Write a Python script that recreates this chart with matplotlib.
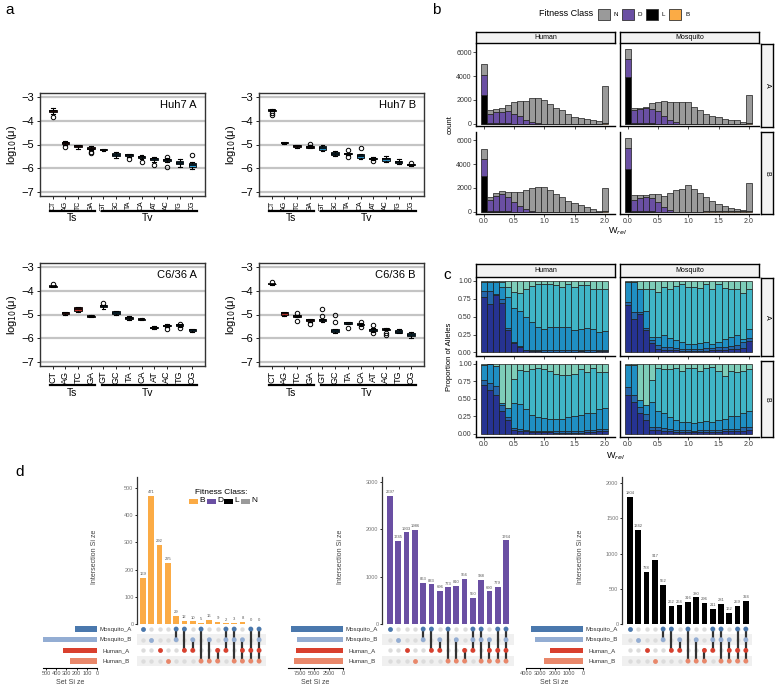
import numpy as np
import matplotlib
matplotlib.use("Agg")
import matplotlib.pyplot as plt
from matplotlib.patches import Rectangle
from matplotlib.transforms import blended_transform_factory

plt.rcParams['font.family'] = ['Liberation Sans', 'DejaVu Sans']
plt.rcParams['axes.unicode_minus'] = True

# ---------------- data: panel a (log10 mutation rate boxes) ----------------
substitutions = ["CT", "AG", "TC", "GA", "GT", "GC", "TA", "CA", "AT", "AC", "TG", "CG"]

huh7a_med = [-3.60, -4.95, -5.08, -5.17, -5.22, -5.43, -5.45, -5.53, -5.62, -5.65, -5.76, -5.85]
huh7a_q1 = [-3.65, -4.99, -5.12, -5.20, -5.25, -5.50, -5.48, -5.57, -5.67, -5.70, -5.82, -5.93]
huh7a_q3 = [-3.55, -4.90, -5.03, -5.12, -5.19, -5.37, -5.42, -5.49, -5.58, -5.62, -5.68, -5.78]
huh7a_lo = [-3.70, -5.02, -5.18, -5.25, -5.27, -5.58, -5.52, -5.62, -5.72, -5.75, -5.93, -6.05]
huh7a_hi = [-3.45, -4.86, -5.00, -5.05, -5.17, -5.32, -5.40, -5.46, -5.53, -5.55, -5.60, -5.75]
huh7a_out = [[-3.85], [-5.10], [], [-5.30, -5.37], [], [], [-5.62], [-5.72], [-5.88], [-5.52, -5.95], [], [-5.45]]
huh7a_col = ["#b23a2a", "#7a1a1a", "#8a2020", "#5a1a1a", "#1a1a1a", "#2a8cbf",
             "#1f5a78", "#1a4a60", "#2e8fc2", "#1f6b90", "#2a8cbf", "#2aa0d8"]

huh7b_med = [-3.55, -4.92, -5.05, -5.10, -5.15, -5.38, -5.40, -5.48, -5.60, -5.63, -5.75, -5.85]
huh7b_q1 = [-3.58, -4.94, -5.09, -5.13, -5.22, -5.44, -5.42, -5.55, -5.63, -5.68, -5.78, -5.87]
huh7b_q3 = [-3.53, -4.90, -5.02, -5.07, -5.07, -5.32, -5.37, -5.42, -5.57, -5.57, -5.70, -5.83]
huh7b_lo = [-3.60, -4.96, -5.14, -5.16, -5.28, -5.48, -5.45, -5.62, -5.66, -5.75, -5.82, -5.89]
huh7b_hi = [-3.51, -4.88, -5.00, -5.04, -5.03, -5.28, -5.34, -5.38, -5.54, -5.50, -5.62, -5.81]
huh7b_out = [[-3.68, -3.74], [], [], [-4.98], [], [], [-5.25, -5.52], [-5.15], [-5.70], [], [], [-5.78]]
huh7b_col = ["#1a1a1a", "#2a1010", "#4a1515", "#3a1212", "#2a8cbf", "#1f6f95",
             "#1a4a60", "#2a8cbf", "#1a4a60", "#2a8cbf", "#1f6f95", "#1a3a4a"]

c636a_med = [-3.82, -4.95, -4.78, -5.07, -4.65, -4.93, -5.15, -5.20, -5.55, -5.47, -5.45, -5.65]
c636a_q1 = [-3.84, -4.99, -4.85, -5.09, -4.70, -4.99, -5.19, -5.22, -5.58, -5.50, -5.48, -5.69]
c636a_q3 = [-3.80, -4.90, -4.70, -5.05, -4.60, -4.86, -5.12, -5.18, -5.52, -5.44, -5.42, -5.61]
c636a_lo = [-3.85, -5.03, -4.88, -5.10, -4.78, -5.01, -5.24, -5.24, -5.60, -5.52, -5.52, -5.72]
c636a_hi = [-3.79, -4.88, -4.67, -5.04, -4.58, -4.84, -5.07, -5.16, -5.49, -5.42, -5.38, -5.60]
c636a_out = [[-3.70], [], [], [], [-4.52], [], [], [], [], [-5.62], [-5.38, -5.55], []]
c636a_col = ["#1a1a1a", "#c0302a", "#c0302a", "#3a1a1a", "#1f5f80", "#2a9fd8",
             "#1a3a4a", "#1a3a4a", "#1f4f68", "#2a7fa8", "#1f4f68", "#2a8cbf"]

c636b_med = [-3.72, -4.95, -5.07, -5.25, -5.25, -5.68, -5.35, -5.42, -5.67, -5.62, -5.72, -5.85]
c636b_q1 = [-3.73, -5.00, -5.10, -5.28, -5.28, -5.73, -5.38, -5.45, -5.70, -5.64, -5.77, -5.90]
c636b_q3 = [-3.71, -4.90, -5.04, -5.21, -5.20, -5.63, -5.31, -5.39, -5.62, -5.60, -5.67, -5.79]
c636b_lo = [-3.74, -5.05, -5.12, -5.30, -5.30, -5.77, -5.40, -5.48, -5.75, -5.65, -5.80, -5.97]
c636b_hi = [-3.70, -4.88, -5.02, -5.19, -5.18, -5.61, -5.30, -5.37, -5.58, -5.58, -5.63, -5.72]
c636b_out = [[-3.62], [], [-4.95, -5.27], [-5.38], [-4.75, -5.05], [-5.00, -5.30], [-5.55],
             [-5.30, -5.52], [-5.45, -5.80], [-5.78, -5.85], [], []]
c636b_col = ["#1a1a1a", "#b03028", "#3a1a1a", "#5a1a1a", "#1a3a4a", "#2a9fd8",
             "#2a8cbf", "#1f5f80", "#1f6b90", "#1a3a4a", "#2a8cbf", "#2a9fd8"]

# ---------------- data: panel b (W_rel histograms, counts per fitness class) ----------------
w_bins = [0.0, 0.1, 0.2, 0.3, 0.4, 0.5, 0.6, 0.7, 0.8, 0.9, 1.0,
          1.1, 1.2, 1.3, 1.4, 1.5, 1.6, 1.7, 1.8, 1.9, 2.0]

hum_a_N = [940, 280, 280, 360, 530, 950, 1280, 1610, 2030, 2090, 2000, 1670, 1330, 1110, 800, 560, 440, 390, 330, 220, 3130]
hum_a_D = [1660, 790, 940, 940, 1030, 820, 610, 330, 110, 50, 0, 0, 0, 0, 0, 0, 0, 0, 0, 0, 0]
hum_a_L = [2450, 40, 30, 30, 20, 10, 0, 0, 0, 0, 0, 0, 0, 0, 0, 0, 0, 0, 0, 0, 0]
hum_a_B = [0, 0, 0, 0, 0, 0, 0, 0, 0, 0, 0, 0, 0, 0, 0, 0, 0, 0, 0, 0, 40]

mos_a_N = [880, 160, 110, 140, 470, 830, 1330, 1530, 1750, 1860, 1800, 1440, 1170, 830, 670, 560, 420, 330, 280, 170, 2400]
mos_a_D = [1530, 1140, 1190, 1280, 1230, 1020, 610, 330, 110, 0, 0, 0, 0, 0, 0, 0, 0, 0, 0, 0, 0]
mos_a_L = [3890, 30, 30, 20, 20, 10, 0, 0, 0, 0, 0, 0, 0, 0, 0, 0, 0, 0, 0, 0, 0]
mos_a_B = [0, 0, 0, 0, 0, 0, 0, 0, 0, 0, 0, 0, 0, 0, 0, 0, 0, 0, 0, 0, 30]

hum_b_N = [790, 220, 230, 230, 450, 870, 1150, 1600, 1920, 2110, 2110, 1830, 1490, 1210, 930, 700, 590, 370, 250, 85, 1950]
hum_b_D = [1490, 960, 1320, 1470, 1190, 780, 510, 230, 80, 0, 0, 0, 0, 0, 0, 0, 0, 0, 0, 0, 0]
hum_b_L = [2960, 30, 30, 20, 20, 10, 0, 0, 0, 0, 0, 0, 0, 0, 0, 0, 0, 0, 0, 0, 0]
hum_b_B = [0, 0, 0, 0, 0, 0, 0, 0, 0, 0, 0, 0, 0, 0, 0, 0, 0, 0, 0, 0, 20]

mos_b_N = [850, 420, 280, 230, 360, 700, 980, 1410, 1830, 1920, 2200, 1920, 1550, 1210, 850, 590, 450, 310, 225, 140, 2350]
mos_b_D = [1780, 960, 1130, 1190, 1110, 780, 370, 140, 0, 0, 0, 0, 0, 0, 0, 0, 0, 0, 0, 0, 0]
mos_b_L = [3600, 30, 30, 20, 20, 10, 0, 0, 0, 0, 0, 0, 0, 0, 0, 0, 0, 0, 0, 0, 0]
mos_b_B = [0, 0, 0, 0, 0, 0, 0, 0, 0, 0, 0, 0, 0, 20, 20, 20, 20, 20, 20, 20, 40]

fitness_classes = ["N", "D", "L", "B"]
fitness_colors = {"N": "#9a9a9a", "D": "#6a4fa3", "L": "#000000", "B": "#fbab45"}

# ---------------- data: panel c (allele proportions, 5 categories bottom->top) ----------------
prop_colors = ["#263392", "#2466ab", "#1f8fc3", "#40b5c6", "#7ecdb9"]

hum_a_prop = [
    [.77, .68, .80, .69, .31, .13, .07, .03, .02, .02, .01, .01, .01, .01, .01, .01, .02, .01, .01, .02, .02],
    [.09, .18, .02, .05, .03, .02, .02, .01, .01, .01, .02, .02, .02, .02, .02, .02, .02, .02, .02, .02, .02],
    [.13, .13, .17, .18, .43, .47, .49, .45, .39, .33, .30, .32, .32, .33, .32, .28, .29, .31, .30, .24, .26],
    [.00, .00, .00, .07, .15, .22, .25, .39, .51, .59, .62, .60, .59, .56, .60, .61, .61, .60, .55, .60, .58],
    [.01, .01, .01, .01, .08, .16, .17, .12, .07, .05, .05, .05, .06, .08, .05, .08, .06, .06, .12, .12, .12],
]
mos_a_prop = [
    [.66, .47, .53, .31, .13, .05, .04, .03, .03, .02, .02, .02, .02, .02, .03, .03, .04, .05, .05, .06, .16],
    [.05, .10, .04, .03, .05, .05, .04, .04, .03, .03, .03, .03, .03, .04, .03, .05, .03, .04, .05, .08, .04],
    [.28, .42, .32, .24, .04, .12, .17, .13, .11, .09, .07, .07, .08, .09, .06, .07, .12, .13, .15, .05, .13],
    [.00, .00, .00, .31, .67, .62, .66, .69, .76, .81, .80, .80, .77, .80, .76, .81, .71, .66, .64, .64, .56],
    [.01, .01, .11, .11, .11, .16, .09, .11, .07, .05, .08, .08, .10, .05, .12, .04, .10, .12, .11, .17, .11],
]
hum_b_prop = [
    [.70, .62, .55, .33, .19, .05, .04, .03, .02, .02, .02, .02, .01, .01, .01, .01, .01, .02, .02, .03, .03],
    [.07, .11, .13, .08, .05, .03, .03, .02, .02, .02, .02, .02, .02, .02, .02, .02, .02, .03, .03, .04, .04],
    [.21, .26, .29, .03, .12, .36, .36, .30, .22, .20, .18, .17, .18, .18, .20, .22, .23, .24, .25, .28, .30],
    [.00, .00, .00, .00, .00, .34, .48, .54, .66, .70, .71, .68, .65, .63, .61, .60, .66, .59, .64, .53, .51],
    [.02, .01, .03, .56, .64, .22, .09, .11, .08, .06, .07, .11, .14, .16, .16, .15, .08, .12, .06, .12, .12],
]
mos_b_prop = [
    [.55, .45, .30, .20, .05, .05, .04, .03, .02, .02, .02, .02, .02, .02, .02, .02, .03, .03, .03, .04, .05],
    [.12, .10, .08, .08, .05, .05, .04, .03, .03, .03, .03, .02, .03, .03, .03, .03, .03, .04, .04, .05, .05],
    [.31, .43, .10, .13, .35, .23, .22, .17, .14, .12, .11, .11, .12, .13, .12, .14, .15, .18, .18, .20, .22],
    [.00, .00, .00, .00, .32, .61, .62, .70, .75, .73, .78, .79, .73, .76, .78, .70, .62, .65, .63, .61, .60],
    [.02, .02, .52, .59, .23, .06, .08, .07, .06, .10, .06, .06, .10, .06, .05, .11, .17, .10, .12, .10, .08],
]

# ---------------- data: panel d (UpSet plots) ----------------
set_names = ["Mosquito_A", "Mosquito_B", "Human_A", "Human_B"]
set_colors = ["#4a78ad", "#93add3", "#d9402e", "#e9876a"]
# members of each intersection column (indices into set_names)
upset_members = [[0], [1], [2], [3], [0, 1], [0, 2], [1, 2], [0, 3], [1, 3], [2, 3],
                 [0, 1, 2], [0, 1, 3], [1, 2, 3], [0, 2, 3], [0, 1, 2, 3]]

upset_b_values = [169, 471, 292, 225, 29, 12, 10, 5, 16, 9, 2, 3, 8, 0, 0]
upset_b_sets = [220, 530, 330, 265]
upset_d_values = [2697, 1745, 1933, 1986, 863, 833, 696, 773, 810, 956, 550, 938, 690, 779, 1764]
upset_d_sets = [9010, 8020, 8140, 8600]
upset_l_values = [1804, 1342, 738, 917, 552, 262, 264, 316, 380, 296, 211, 281, 162, 259, 324]
upset_l_sets = [3690, 3410, 2350, 2780]

# ---------------- figure ----------------
W, H = 776, 691
fig = plt.figure(figsize=(W / 100, H / 100), dpi=100)


def px_axes(l, t, r, b):
    return fig.add_axes([l / W, 1 - b / H, (r - l) / W, (b - t) / H])


def px_text(x, y, s, **kw):
    fig.text(x / W, 1 - y / H, s, **kw)


def px_rect(l, t, r, b, **kw):
    fig.add_artist(Rectangle((l / W, 1 - b / H), (r - l) / W, (b - t) / H,
                             transform=fig.transFigure, **kw))


# ---------------- panel a ----------------
def draw_mut(box, name, med, q1, q3, lo, hi, out, cols, tick_fs, line_off, text_off):
    ax = px_axes(*box)
    stats = [dict(med=m, q1=a, q3=b, whislo=w0, whishi=w1, fliers=f)
             for m, a, b, w0, w1, f in zip(med, q1, q3, lo, hi, out)]
    bp = ax.bxp(stats, positions=range(12), widths=0.6, patch_artist=True,
                boxprops=dict(edgecolor="black", linewidth=0.6),
                medianprops=dict(color="black", linewidth=1.2),
                whiskerprops=dict(color="black", linewidth=0.8),
                capprops=dict(color="black", linewidth=0.8),
                flierprops=dict(marker="o", markerfacecolor="none", markeredgecolor="black",
                                markersize=3.2, markeredgewidth=0.7))
    for patch, c in zip(bp["boxes"], cols):
        patch.set_facecolor(c)
    for y in [-3, -4, -5, -6, -7]:
        ax.axhline(y, color="#c4c4c4", lw=1.6, zorder=0)
    ax.set_xlim(-1, 12)
    ax.set_ylim(-7.17, -2.83)
    ax.set_yticks([-3, -4, -5, -6, -7])
    ax.set_yticklabels(["\u22123", "\u22124", "\u22125", "\u22126", "\u22127"], fontsize=8)
    ax.set_xticks(range(12))
    ax.set_xticklabels(substitutions, rotation=90, fontsize=tick_fs)
    ax.tick_params(length=2.5, width=0.6, pad=1.5)
    ax.tick_params(axis="x", pad=1)
    for s in ax.spines.values():
        s.set_color("#333333")
        s.set_linewidth(1.0)
    ax.set_ylabel("log$_{10}$(\u03bc)", fontsize=8, labelpad=2)
    ax.text(0.95, 0.88, name, transform=ax.transAxes, ha="right", va="center", fontsize=8)
    h = box[3] - box[1]
    tr = blended_transform_factory(ax.transData, ax.transAxes)
    ly = -line_off / h
    ty = -text_off / h
    ax.plot([-0.2, 3.3], [ly, ly], color="black", lw=1.6, transform=tr, clip_on=False)
    ax.plot([3.85, 11.35], [ly, ly], color="black", lw=1.6, transform=tr, clip_on=False)
    ax.text(1.5, ty, "Ts", transform=tr, ha="center", va="center", fontsize=7.5)
    ax.text(7.5, ty, "Tv", transform=tr, ha="center", va="center", fontsize=7.5)


draw_mut((40, 93, 205, 196), "Huh7 A", huh7a_med, huh7a_q1, huh7a_q3, huh7a_lo, huh7a_hi,
         huh7a_out, huh7a_col, 5.0, 15, 22)
draw_mut((259, 93, 424, 196), "Huh7 B", huh7b_med, huh7b_q1, huh7b_q3, huh7b_lo, huh7b_hi,
         huh7b_out, huh7b_col, 5.0, 15, 22)
draw_mut((40, 263, 205, 366), "C6/36 A", c636a_med, c636a_q1, c636a_q3, c636a_lo, c636a_hi,
         c636a_out, c636a_col, 6.5, 19, 27)
draw_mut((259, 263, 424, 366), "C6/36 B", c636b_med, c636b_q1, c636b_q3, c636b_lo, c636b_hi,
         c636b_out, c636b_col, 6.5, 19, 27)

px_text(5, 10, "a", fontsize=11, va="center")
px_text(432, 10, "b", fontsize=11, va="center")
px_text(443, 275, "c", fontsize=11, va="center")
px_text(15, 472, "d", fontsize=11, va="center")


# ---------------- facet helpers ----------------
def strip(l, t, r, b, label, rot=0):
    ax = px_axes(l, t, r, b)
    ax.set_facecolor("#f2f2f2")
    ax.set_xticks([])
    ax.set_yticks([])
    for s in ax.spines.values():
        s.set_linewidth(1.0)
        s.set_color("black")
    ax.text(0.5, 0.5, label, transform=ax.transAxes, ha="center", va="center",
            fontsize=5, rotation=rot)


def classic(ax, show_x, show_y):
    for side in ["top", "right"]:
        ax.spines[side].set_visible(False)
    for side in ["left", "bottom"]:
        ax.spines[side].set_linewidth(1.0)
        ax.spines[side].set_color("black")
    ax.tick_params(length=2, width=0.6, pad=1, labelsize=5, colors="#333333")
    if not show_x:
        ax.tick_params(axis="x", labelbottom=False)
    if not show_y:
        ax.tick_params(axis="y", labelleft=False, length=0)


# ---------------- panel b ----------------
def draw_hist(box, N, D, L, B, show_x, show_y):
    ax = px_axes(*box)
    bottom = np.zeros(len(w_bins))
    for cls, vals in [("B", B), ("L", L), ("D", D), ("N", N)]:
        ax.bar(w_bins, vals, width=0.1, bottom=bottom, color=fitness_colors[cls],
               edgecolor="#1a1a1a", linewidth=0.5)
        bottom = bottom + np.array(vals)
    ax.set_xlim(-0.13, 2.17)
    ax.set_ylim(-200, 6700)
    ax.set_xticks([0.0, 0.5, 1.0, 1.5, 2.0])
    ax.set_yticks([0, 2000, 4000, 6000])
    classic(ax, show_x, show_y)


draw_hist((476, 44, 615, 126), hum_a_N, hum_a_D, hum_a_L, hum_a_B, False, True)
draw_hist((620, 44, 759, 126), mos_a_N, mos_a_D, mos_a_L, mos_a_B, False, False)
draw_hist((476, 132, 615, 214), hum_b_N, hum_b_D, hum_b_L, hum_b_B, True, True)
draw_hist((620, 132, 759, 214), mos_b_N, mos_b_D, mos_b_L, mos_b_B, True, False)
strip(476, 32, 615, 43, "Human")
strip(620, 32, 759, 43, "Mosquito")
strip(761, 44, 773, 127, "A", rot=-90)
strip(761, 132, 773, 214, "B", rot=-90)
px_text(450, 125, "count", fontsize=5.5, rotation=90, ha="center", va="center")
px_text(617, 231, "W$_{rel}$", fontsize=6.5, ha="center", va="center")

# legend of panel b
px_text(566, 14, "Fitness Class", fontsize=6.5, ha="center", va="center")
for cls, x0 in zip(fitness_classes, [598, 622, 646, 669]):
    px_rect(x0, 9, x0 + 12, 20, facecolor=fitness_colors[cls], edgecolor="#333333", linewidth=0.6)
    px_text(x0 + 16, 14.5, cls, fontsize=4.5, ha="left", va="center")


# ---------------- panel c ----------------
def draw_prop(box, props, show_x, show_y):
    ax = px_axes(*box)
    bottom = np.zeros(len(w_bins))
    for vals, c in zip(props, prop_colors):
        ax.bar(w_bins, vals, width=0.1, bottom=bottom, color=c, edgecolor="#1a1a1a", linewidth=0.5)
        bottom = bottom + np.array(vals)
    ax.set_xlim(-0.13, 2.17)
    ax.set_ylim(-0.05, 1.04)
    ax.set_xticks([0.0, 0.5, 1.0, 1.5, 2.0])
    ax.set_yticks([0, 0.25, 0.5, 0.75, 1.0])
    ax.set_yticklabels(["0.00", "0.25", "0.50", "0.75", "1.00"])
    classic(ax, show_x, show_y)


draw_prop((476, 278, 615, 356), hum_a_prop, False, True)
draw_prop((620, 278, 759, 356), mos_a_prop, False, False)
draw_prop((476, 361, 615, 437), hum_b_prop, True, True)
draw_prop((620, 361, 759, 437), mos_b_prop, True, False)
strip(476, 264, 615, 277, "Human")
strip(620, 264, 759, 277, "Mosquito")
strip(761, 278, 773, 356, "A", rot=-90)
strip(761, 361, 773, 437, "B", rot=-90)
px_text(449, 357, "Proportion of Alleles", fontsize=5.5, rotation=90, ha="center", va="center")
px_text(615, 456, "W$_{rel}$", fontsize=6.5, ha="center", va="center")


# ---------------- panel d ----------------
def draw_upset(bar_l, bar_r, x0, x1, values, color, ytop, yticks,
               set_l, set_r, setmax, setticks, sizes, label_cx, ylab_x):
    # intersection size bars
    axb = px_axes(bar_l, 477, bar_r, 624)
    cols = range(len(values))
    axb.bar(cols, values, width=0.68, color=color)
    for i, v in zip(cols, values):
        axb.text(i, v + ytop * 0.012, str(v), ha="center", va="bottom", fontsize=3.0, color="#555555")
    axb.set_xlim(x0, x1)
    axb.set_ylim(0, ytop)
    axb.set_yticks(yticks)
    axb.set_xticks([])
    for side in ["top", "right", "bottom"]:
        axb.spines[side].set_visible(False)
    axb.spines["left"].set_color("#333333")
    axb.spines["left"].set_linewidth(0.9)
    axb.tick_params(axis="y", length=1.5, width=0.6, pad=1, labelsize=4, labelcolor="#777777")
    px_text(ylab_x, 557, "Intersection Si ze", fontsize=5, rotation=90, ha="center", va="center",
            color="#444444")

    # matrix
    axm = px_axes(bar_l, 624, bar_r, 668)
    axm.set_xlim(x0, x1)
    axm.set_ylim(-0.65, 3.47)
    for row in [2, 0]:
        axm.axhspan(row - 0.5, row + 0.5, color="#f0f0f0", zorder=0, lw=0)
    rows_y = [3, 2, 1, 0]
    for i in cols:
        axm.scatter([i] * 4, rows_y, s=10, color="#dcdcdc", zorder=1, lw=0)
        members = upset_members[i]
        ys = [rows_y[m] for m in members]
        if len(ys) > 1:
            axm.plot([i, i], [min(ys), max(ys)], color="#333333", lw=1.6, zorder=2)
        axm.scatter([i] * len(members), ys, s=12, color=[set_colors[m] for m in members],
                    zorder=3, lw=0)
    axm.axis("off")

    # set sizes
    axs = px_axes(set_l, 624, set_r, 668)
    axs.barh(rows_y, sizes, height=0.5, color=set_colors)
    axs.set_xlim(setmax, 0)
    axs.set_ylim(-0.65, 3.47)
    axs.set_yticks([])
    axs.set_xticks(setticks)
    for side in ["top", "right", "left"]:
        axs.spines[side].set_visible(False)
    axs.spines["bottom"].set_linewidth(0.8)
    axs.tick_params(axis="x", length=1.5, width=0.6, pad=1, labelsize=4, labelcolor="#555555")
    axs.set_xlabel("Set Si ze", fontsize=5, labelpad=2, color="#444444")
    for name, y in zip(set_names, [629, 640, 651, 661]):
        px_text(label_cx, y, name, fontsize=4.4, ha="center", va="center", color="#333333")


draw_upset(137, 266, -0.72, 14.84, upset_b_values, fitness_colors["B"], 540, [0, 100, 200, 300, 400, 500],
           43, 97, 530, [500, 400, 300, 200, 100, 0], upset_b_sets, 116, 94)
draw_upset(382, 514, -0.97, 14.97, upset_d_values, fitness_colors["D"], 3100, [0, 1000, 2000, 3000],
           288, 343, 9600, [7500, 5000, 2500, 0], upset_d_sets, 362, 340)
draw_upset(622, 752, -0.97, 14.75, upset_l_values, fitness_colors["L"], 2090, [0, 500, 1000, 1500, 2000],
           526, 583, 4020, [4000, 3000, 2000, 1000, 0], upset_l_sets, 602, 581)

# legend of UpSet B
px_text(221, 492, "Fitness Class:", fontsize=6, ha="center", va="center")
for cls, xl in zip(["B", "D", "L", "N"], [189, 207, 224, 241]):
    px_rect(xl, 499, xl + 9, 503.5, facecolor=fitness_colors[cls], edgecolor="none")
    px_text(xl + 10, 501, cls, fontsize=6, ha="left", va="center")

fig.savefig("out.png", dpi=100)
